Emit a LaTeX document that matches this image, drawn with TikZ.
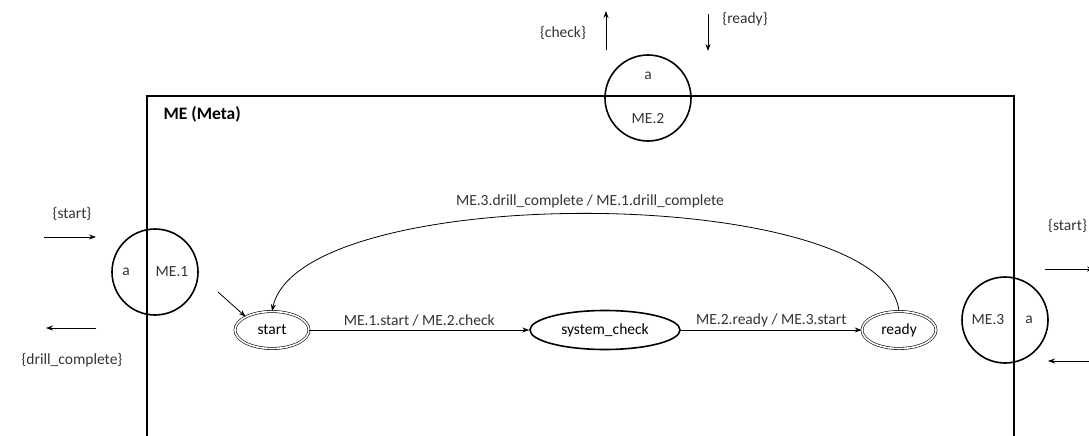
\documentclass[tikz,border=0pt]{standalone}
\usepackage{fontspec}
\setmainfont{Carlito}
\usetikzlibrary{shapes.geometric,arrows.meta}
\begin{document}
\begin{tikzpicture}[x=1pt,y=-1pt,
  font=\fontsize{15.5}{18}\selectfont,
  port/.style={circle,draw,line width=1.6pt,minimum size=86pt,inner sep=0pt},
  final/.style={ellipse,draw,double,double distance=1.6pt,line width=0.6pt,minimum width=74pt,minimum height=37pt,inner sep=0pt},
  plain/.style={ellipse,draw,line width=1.6pt,minimum width=150pt,minimum height=39pt,inner sep=0pt},
  trans/.style={-{Stealth[length=7pt,width=5pt]},line width=0.8pt},
  lbl/.style={inner sep=1pt,text=black!80}]
\useasboundingbox (0,0) rectangle (1089,436);
\clip (0,0) rectangle (1089,436);

% meta machine frame (runs past the lower edge)
\draw[line width=1.6pt] (147,440) -- (147,96) -- (1014,96) -- (1014,440);
\node[anchor=west,font=\fontsize{17.5}{20}\selectfont\bfseries] (title) at (160,114) {ME (Meta)};

% ports on the frame
\node[port] (me1) at (155,272) {};
\node[lbl] (me1a) at (126,272) {a};
\node[lbl] (me1n) at (172,272) {ME.1};
\node[port] (me2) at (648,98) {};
\node[lbl] (me2a) at (648,76) {a};
\node[lbl] (me2n) at (648,119) {ME.2};
\node[port] (me3) at (1005,320) {};
\node[lbl] (me3n) at (988,320) {ME.3};
\node[lbl] (me3a) at (1029,320) {a};

% states
\node[final] (start) at (272,330) {start};
\node[plain] (check) at (605,330) {system\_check};
\node[final] (ready) at (899,330) {ready};

% initial pointer
\coordinate (init) at (218,292);
\draw[trans] (init) -- (start.north west);

% transitions
\draw[trans] (start) -- node[lbl,above=2pt] {ME.1.start / ME.2.check} (check);
\draw[trans] (check) -- node[lbl,above=2pt] {ME.2.ready / ME.3.start} (ready);
\draw[trans] (ready.north) .. controls (885,183) and (300,180) .. (start.north);
\node[lbl] (backlbl) at (590,201) {ME.3.drill\_complete / ME.1.drill\_complete};

% external events of ME.1
\node[lbl] (ev1) at (72,214) {\{start\}};
\coordinate (a1s) at (44,237); \coordinate (a1e) at (96,237);
\draw[trans] (a1s) -- (a1e);
\coordinate (a2s) at (96,328); \coordinate (a2e) at (46,328);
\draw[trans] (a2s) -- (a2e);
\node[lbl] (ev2) at (72,360) {\{drill\_complete\}};

% external events of ME.2
\node[lbl] (ev3) at (563,33) {\{check\}};
\coordinate (a3s) at (606,50); \coordinate (a3e) at (606,11);
\draw[trans] (a3s) -- (a3e);
\coordinate (a4s) at (708,14); \coordinate (a4e) at (708,51);
\draw[trans] (a4s) -- (a4e);
\node[lbl] (ev4) at (745,19) {\{ready\}};

% external events of ME.3
\node[lbl,anchor=west] (ev5) at (1047,226) {\{start\}};
\coordinate (a5s) at (1045,269); \coordinate (a5e) at (1094,269);
\draw[trans] (a5s) -- (a5e);
\coordinate (a6s) at (1100,361); \coordinate (a6e) at (1048,361);
\draw[trans] (a6s) -- (a6e);
\end{tikzpicture}
\end{document}
